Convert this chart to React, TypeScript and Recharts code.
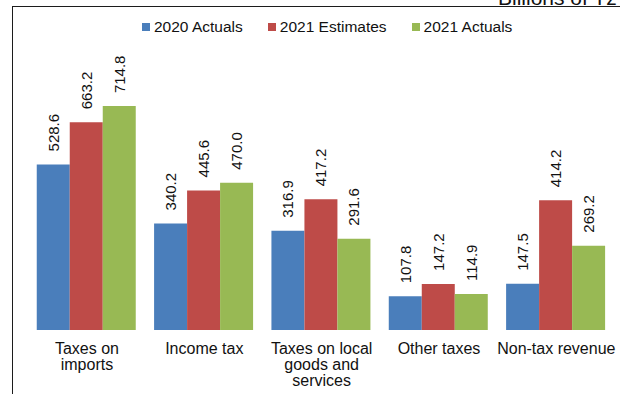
import React from 'react';
import { BarChart, Bar, XAxis, YAxis, Legend, LabelList } from 'recharts';

const categories = ['Taxes on imports', 'Income tax', 'Taxes on local goods and services', 'Other taxes', 'Non-tax revenue'];
const categoryLines = [['Taxes on', 'imports'], ['Income tax'], ['Taxes on local', 'goods and', 'services'], ['Other taxes'], ['Non-tax revenue']];
const actuals2020 = [528.6, 340.2, 316.9, 107.8, 147.5];
const estimates2021 = [663.2, 445.6, 417.2, 147.2, 414.2];
const actuals2021 = [714.8, 470.0, 291.6, 114.9, 269.2];
const seriesKeys = ['a2020', 'e2021', 'a2021'];
const seriesNames = ['2020 Actuals', '2021 Estimates', '2021 Actuals'];
const seriesColors = ['#4A7EBB', '#BE4B48', '#98B954'];
const boundaryTicks = [0, 1, 2, 3, 4, 5];

const FONT = '"Liberation Sans", Arial, sans-serif';

const data = categories.map((name, i) => ({
  name,
  a2020: actuals2020[i],
  e2021: estimates2021[i],
  a2021: actuals2021[i],
}));

// value labels sit above each bar, rotated to read bottom-up
const RotatedLabel = (props: any) => {
  const { x, y, width, value } = props;
  const cx = Number(x) + Number(width) / 2;
  const ty = Number(y) - 13;
  return (
    <text
      x={cx}
      y={ty}
      transform={`rotate(-90 ${cx} ${ty})`}
      textAnchor="start"
      dominantBaseline="central"
      fontSize={15}
      fontFamily={FONT}
      fill="#111"
    >
      {Number(value).toFixed(1)}
    </text>
  );
};

const CategoryTick = (props: any) => {
  const { x, y, payload } = props;
  const idx = categories.indexOf(payload.value);
  const lines = categoryLines[idx] || [payload.value];
  return (
    <text x={x} y={y} textAnchor="middle" fontSize={16} fontFamily={FONT} fill="#111">
      {lines.map((l, i) => (
        <tspan key={i} x={x} dy={i === 0 ? 23.5 : 16}>
          {l}
        </tspan>
      ))}
    </text>
  );
};

const LegendContent = (props: any) => {
  const items = [...(props.payload || [])].sort(
    (a: any, b: any) => seriesNames.indexOf(a.value) - seriesNames.indexOf(b.value)
  );
  return (
    <div style={{ display: 'flex', height: 20, alignItems: 'center', fontFamily: FONT, fontSize: 15.5, color: '#111' }}>
      {items.map((p: any, i: number) => (
        <div key={i} style={{ display: 'flex', alignItems: 'center', marginRight: 25 }}>
          <span style={{ width: 8, height: 8, background: p.color, marginRight: 4, display: 'inline-block' }} />
          <span>{p.value}</span>
        </div>
      ))}
    </div>
  );
};

export default function App() {
  return (
    <div style={{ position: 'fixed', left: 0, top: 0, width: 620, height: 394, overflow: 'hidden', background: '#fff' }}>
      {/* outer frame, runs off the right and bottom edges */}
      <div
        style={{
          position: 'absolute',
          left: 12,
          top: 6,
          width: 800,
          height: 600,
          borderLeft: '1.5px solid #1c1c1c',
          borderTop: '1.5px solid #1c1c1c',
        }}
      />
      <svg style={{ position: 'absolute', left: 0, top: 0 }} width={620} height={20}>
        <text x={498} y={4.5} fontSize={21} fontFamily={FONT} fill="#111">
          Billions of Tz
        </text>
      </svg>
      <div style={{ position: 'absolute', left: 0, top: 0 }}>
        <BarChart
          width={620}
          height={394}
          data={data}
          margin={{ top: 59.4, right: 5, bottom: 4, left: 28.3 }}
          barCategoryGap="7.2%"
          barGap={0}
        >
          <XAxis
            xAxisId="edge"
            type="number"
            domain={[0, 5]}
            ticks={boundaryTicks}
            allowDataOverflow
            height={0}
            tickSize={4}
            tickFormatter={() => ''}
            stroke="#868686"
          />
          <XAxis
            xAxisId="cat"
            dataKey="name"
            height={60}
            axisLine={false}
            tickLine={false}
            tickSize={0}
            tickMargin={0}
            interval={0}
            tick={<CategoryTick />}
          />
          <YAxis hide domain={[0, 800]} />
          <Legend
            verticalAlign="top"
            align="left"
            content={<LegendContent />}
            wrapperStyle={{ top: 17, left: 142 }}
          />
          {seriesKeys.map((k, i) => (
            <Bar
              key={k}
              xAxisId="cat"
              dataKey={k}
              name={seriesNames[i]}
              fill={seriesColors[i]}
              isAnimationActive={false}
            >
              <LabelList dataKey={k} content={<RotatedLabel />} />
            </Bar>
          ))}
        </BarChart>
      </div>
    </div>
  );
}
